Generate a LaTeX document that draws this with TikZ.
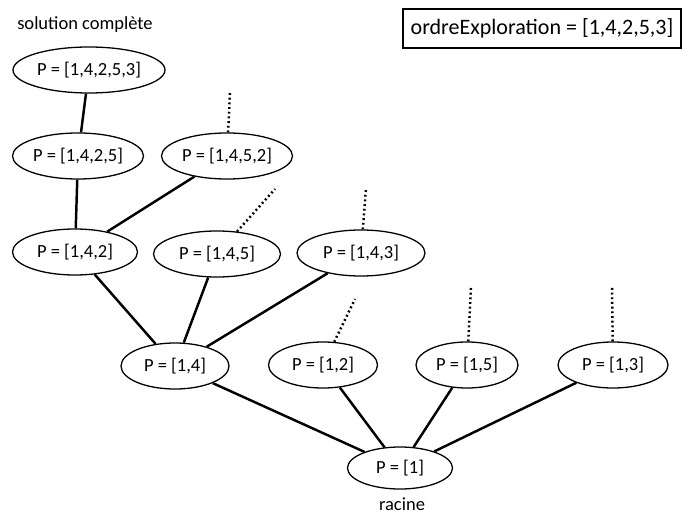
\documentclass[tikz,border=0pt]{standalone}
\usepackage{fontspec}
\setmainfont{Carlito}
\usetikzlibrary{shapes.geometric}

\begin{document}
\begin{tikzpicture}[x=0.03cm,y=-0.03cm,
  etat/.style={draw,ellipse,line width=1.1pt,inner sep=0pt,minimum height=1.38cm,minimum width=#1*0.03cm},
  lien/.style={line width=2.1pt},
  suite/.style={line width=2.1pt,dash pattern=on 1.6pt off 2.4pt},
  every node/.style={font=\fontsize{15.8}{19}\selectfont}]
\useasboundingbox (0,0) rectangle (683,514);

% ===== noeuds de l'arbre =====
\node[etat=152] (p14253) at (89,70) {P = [1,4,2,5,3]};
\node[etat=131] (p1425) at (78,156) {P = [1,4,2,5]};
\node[etat=131] (p1452) at (227,156) {P = [1,4,5,2]};
\node[etat=125] (p142) at (75,252) {P = [1,4,2]};
\node[etat=127] (p145) at (217,254) {P = [1,4,5]};
\node[etat=128] (p143) at (361,253) {P = [1,4,3]};
\node[etat=108] (p14) at (175,366) {P = [1,4]};
\node[etat=109] (p12) at (323,365) {P = [1,2]};
\node[etat=102] (p15) at (467,365) {P = [1,5]};
\node[etat=110] (p13) at (613,365) {P = [1,3]};
\node[etat=105,minimum height=1.26cm] (p1) at (400,468) {P = [1]};

% ===== aretes =====
\foreach \a/\b in {p14253/p1425,p1425/p142,p1452/p142,p142/p14,p145/p14,p143/p14,p14/p1,p12/p1,p15/p1,p13/p1}{\draw[lien] (\a) -- (\b);}

% branches non explorees
\foreach \n/\x/\y in {p1452/230/92,p145/275/189,p143/366/188,p12/355/299,p15/471/288,p13/612/287}{
  \coordinate (f\n) at (\x,\y);
  \draw[suite] (\n) -- (f\n);}

% ===== textes =====
\node (sol) at (85,25) {solution complète};
\node[inner sep=0pt,anchor=base] (racine) at (402,510) {racine};
\node[draw,line width=2.3pt,inner sep=0pt,minimum width=8.34cm,minimum height=1.17cm,font=\fontsize{18.8}{22}\selectfont] (ordre) at (542,28.5) {ordreExploration = [1,4,2,5,3]};
\end{tikzpicture}
\end{document}
